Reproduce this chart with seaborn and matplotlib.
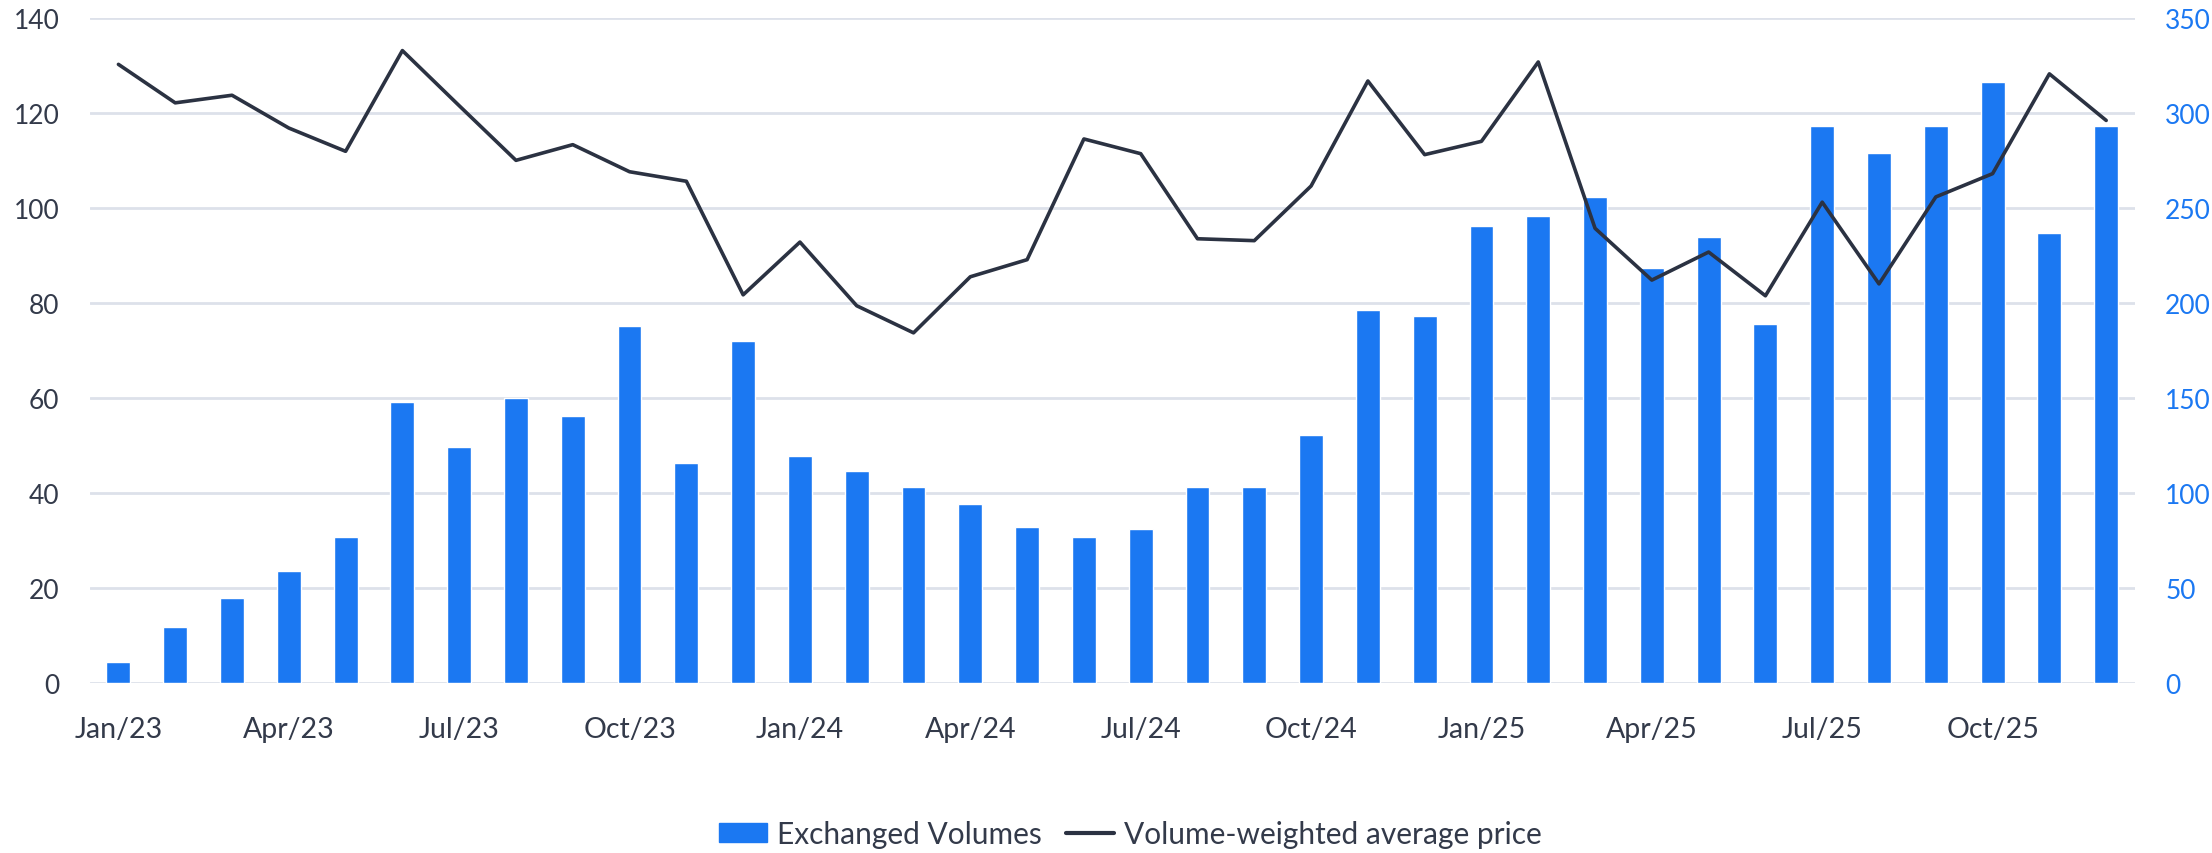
import numpy as np
import pandas as pd
import matplotlib
matplotlib.use('Agg')
import matplotlib.pyplot as plt
import seaborn as sns
from matplotlib.lines import Line2D
from matplotlib.patches import Patch

# monthly data, Jan/23 .. Dec/25
months = [f"{m}/{y}" for y in ['23', '24', '25']
          for m in ['Jan', 'Feb', 'Mar', 'Apr', 'May', 'Jun',
                    'Jul', 'Aug', 'Sep', 'Oct', 'Nov', 'Dec']]

volumes = [11, 29.5, 44.7, 59, 76.8, 148, 124, 150, 140.5, 188, 116, 180,
           119.5, 111.6, 103, 94.2, 82.1, 76.8, 81, 103, 103, 130.5, 196.3, 193,
           240.5, 245.8, 255.8, 218.4, 234.7, 189, 293, 279, 293, 316, 237, 293]

prices = [130.2, 122.1, 123.7, 116.8, 111.9, 133.1, 121.5, 110.0, 113.3, 107.6, 105.6, 81.7,
          92.8, 79.4, 73.7, 85.5, 89.1, 114.5, 111.4, 93.5, 93.1, 104.6, 126.7, 111.2,
          114.0, 130.7, 95.7, 84.8, 90.7, 81.5, 101.2, 84.0, 102.3, 107.2, 128.2, 118.4]

df = pd.DataFrame({'Month': months, 'Volume': volumes, 'Price': prices})

bar_color = '#1B78F2'
line_color = '#2B3242'
text_color = '#333A4A'
grid_color = '#DDE1EA'

sns.set_style('white')
plt.rcParams['font.family'] = ['Lato', 'DejaVu Sans']

fig = plt.figure(figsize=(22.12, 8.54), dpi=100)
ax = fig.add_axes([0.0407, 0.199, 0.9243, 0.779])

# bars on the primary axes (ticks shown on the right)
sns.barplot(data=df, x='Month', y='Volume', color=bar_color, width=0.42,
            saturation=1, ax=ax, zorder=2)
ax.set_ylim(0, 350)
ax.set_yticks(np.arange(0, 351, 50))
ax.grid(axis='y', color=grid_color, linewidth=2)
ax.set_axisbelow(True)

# price line on the twin axes (ticks shown on the left)
ax2 = ax.twinx()
sns.lineplot(data=df, x='Month', y='Price', color=line_color, linewidth=2.6,
             ax=ax2, sort=False)
ax2.set_ylim(0, 140)
ax2.set_yticks(np.arange(0, 141, 20))

# swap sides: twinx puts the original axis on the left
ax.yaxis.tick_right()
ax.yaxis.set_label_position('right')
ax2.yaxis.tick_left()
ax2.yaxis.set_label_position('left')

ax.set_xlim(-0.5, len(months) - 0.5)
ax.set_xticks(range(0, len(months), 3))
ax.set_xticklabels(months[::3])

for a in (ax, ax2):
    a.set_xlabel('')
    a.set_ylabel('')
    for s in a.spines.values():
        s.set_visible(False)

ax.tick_params(axis='x', length=0, pad=24, labelsize=20.5, labelcolor=text_color)
ax.tick_params(axis='y', length=0, pad=22, labelsize=19, labelcolor=bar_color)
ax2.tick_params(axis='y', length=0, pad=22, labelsize=19, labelcolor=text_color)

handles = [Patch(color=bar_color, label='Exchanged Volumes'),
           Line2D([], [], color=line_color, linewidth=3,
                  label='Volume-weighted average price')]
fig.legend(handles=handles, loc='center', bbox_to_anchor=(0.511, 0.022),
           ncol=2, frameon=False, fontsize=21.5, labelcolor=text_color,
           handlelength=1.6, handleheight=0.6, columnspacing=0.8, handletextpad=0.35)

fig.savefig('out.png', dpi=100)
